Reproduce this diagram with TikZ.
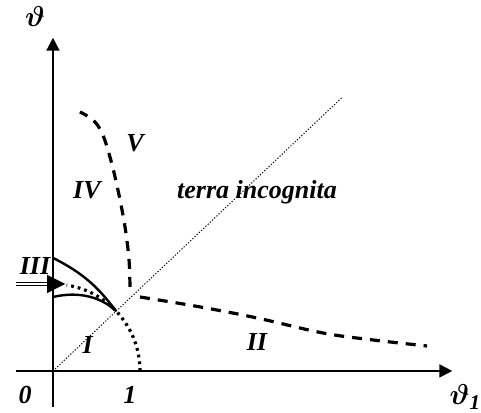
\documentclass[tikz,border=0pt]{standalone}
\usepackage{amsmath}
\usepackage{bm}
\usepackage{fontspec}
\setmainfont{Liberation Serif}
\usetikzlibrary{arrows.meta}
\begin{document}
\begin{tikzpicture}[x=43.5pt, y=43.5pt,
        every node/.style={font=\fontsize{13}{15}\selectfont\bfseries\itshape, inner sep=0pt},
        varlabel/.style={font=\fontsize{15}{17}\selectfont},
        axis/.style={line width=1pt, -{Triangle[length=6.5pt, width=6.5pt]}},
        border/.style={line width=1.2pt},
        dashborder/.style={line width=1.6pt, dash pattern=on 5pt off 4pt},
        dotborder/.style={line width=1.6pt, dash pattern=on 1.4pt off 2pt},
        thindot/.style={line width=0.5pt, dash pattern=on 0.6pt off 0.9pt}]
    \useasboundingbox (-0.609,-0.483) rectangle (4.920,4.264);
    % axes
    \coordinate (O) at (0,0);
    \coordinate (xstart) at (-0.425,0);
    \coordinate (xend) at (4.59,0);
    \coordinate (ystart) at (0,-0.41);
    \coordinate (yend) at (0,3.83);
    \draw[axis] (xstart) -- (xend);
    \draw[axis] (ystart) -- (yend);
    \node[varlabel] (xlabel) at (4.74,-0.30) {$\bm{\vartheta}_{\text{\bfseries\itshape 1}}$};
    \node[varlabel] (ylabel) at (-0.207,4.07) {$\bm{\vartheta}$};
    \node (zero) at (-0.32,-0.276) {0};
    \node (one) at (0.885,-0.276) {1};
    % diagonal and unit circle
    \coordinate (P) at (43.5:1);
    \coordinate (diag) at (3.33,3.15);
    \draw[thindot] (O) -- (diag);
    \draw[dotborder] (1,0) arc[start angle=0, end angle=81, radius=1];
    % region III
    \coordinate (upper) at (0,1.30);
    \coordinate (lower) at (0,0.85);
    \draw[border] (upper) to[bend left=13] (P);
    \draw[border] (lower) .. controls (0.3,0.92) and (0.55,0.85) .. (P);
    \coordinate (inflow) at (-0.425,1.0);
    \coordinate (inhead) at (0.14,1.0);
    \draw[line width=0.5pt, double, double distance=1.1pt] (inflow) -- (-0.07,1.0);
    \draw[line width=0.5pt, -{Triangle[length=9pt, width=9pt]}] (-0.07,1.0) -- (inhead);
    % dashed boundaries
    \draw[dashborder] plot[smooth, tension=0.6] coordinates {(0.885,0.966) (0.874,1.276) (0.828,1.655)
        (0.747,2.08) (0.655,2.46) (0.563,2.736) (0.46,2.885) (0.31,2.977)};
    \draw[dashborder] plot[smooth, tension=0.6] coordinates {(1.0,0.85) (1.69,0.736) (2.345,0.609)
        (3.10,0.437) (3.68,0.356) (4.30,0.287)};
    % region labels
    \node (I) at (0.40,0.30) {I};
    \node (II) at (2.345,0.333) {II};
    \node (III) at (-0.207,1.207) {III};
    \node (IV) at (0.39,2.08) {IV};
    \node (V) at (0.943,2.62) {V};
    \node (terra) at (2.345,2.057) {terra incognita};
\end{tikzpicture}
\end{document}
